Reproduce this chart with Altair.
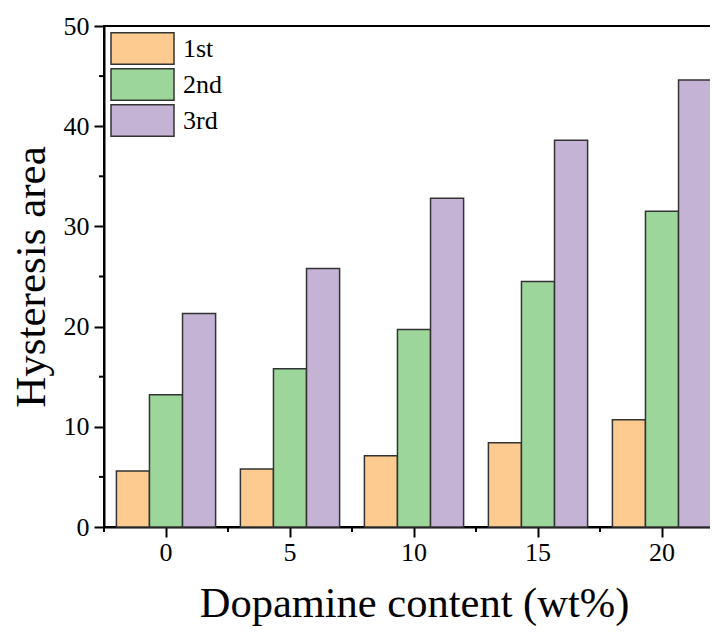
import altair as alt
import pandas as pd

content = ["0", "5", "10", "15", "20"]
series = ["1st", "2nd", "3rd"]
first = [5.6, 5.8, 7.1, 8.4, 10.7]
second = [13.2, 15.8, 19.7, 24.5, 31.5]
third = [21.3, 25.8, 32.8, 38.6, 44.6]
colors = ["#FDCB8F", "#9DD69B", "#C5B3D6"]
y_minor = [5, 15, 25, 35, 45]

rows = []
for s, vals in zip(series, [first, second, third]):
    for c, v in zip(content, vals):
        rows.append({"content": c, "series": s, "value": v})
df = pd.DataFrame(rows)
df_c = pd.DataFrame({"content": content})
df_m = pd.DataFrame({"v": y_minor})

FONT = "Liberation Serif"
W, H = 620, 501

xscale = alt.Scale(domain=content, paddingInner=0.2, paddingOuter=0.1)

bars = alt.Chart(df).mark_bar(stroke="#333333", strokeWidth=1.5).encode(
    x=alt.X("content:N", scale=xscale, sort=content,
            axis=alt.Axis(title="Dopamine content (wt%)", labelAngle=0, tickSize=10,
                          tickWidth=2, domainWidth=2, domainColor="black", tickColor="black",
                          labelFontSize=26, titleFontSize=42.5, labelPadding=2,
                          titlePadding=17, labelFont=FONT, titleFont=FONT,
                          titleFontWeight="normal", labelColor="black", titleColor="black")),
    xOffset=alt.XOffset("series:N", sort=series),
    y=alt.Y("value:Q", scale=alt.Scale(domain=[0, 50], nice=False),
            axis=alt.Axis(title="Hysteresis area", values=[0, 10, 20, 30, 40, 50],
                          tickSize=10, tickWidth=2, domainWidth=2, domainColor="black",
                          tickColor="black", labelFontSize=26, titleFontSize=43,
                          labelPadding=5, titlePadding=10, labelFont=FONT, titleFont=FONT,
                          titleFontWeight="normal", grid=False, labelColor="black",
                          titleColor="black")),
    fill=alt.Fill("series:N", sort=series,
                  scale=alt.Scale(domain=series, range=colors),
                  legend=alt.Legend(title=None, orient="none", legendX=22, legendY=6,
                                    symbolType="M-2,-1H2V1H-2Z", symbolSize=992,
                                    symbolStrokeColor="#333333", symbolStrokeWidth=1.5,
                                    symbolOpacity=1, rowPadding=-4,
                                    labelFontSize=26, labelFont=FONT, labelColor="black",
                                    labelOffset=24, padding=0)),
)

x_minor = alt.Chart(df_c).mark_rule(color="black", strokeWidth=2, xOffset=-12.4).encode(
    x=alt.X("content:N", scale=xscale, sort=content, bandPosition=0),
    y=alt.value(H),
    y2=alt.value(H + 5),
)

y_minor_ticks = alt.Chart(df_m).mark_rule(color="black", strokeWidth=2).encode(
    y=alt.Y("v:Q"),
    x=alt.value(-5),
    x2=alt.value(0),
)

chart = alt.layer(bars, x_minor, y_minor_ticks).properties(
    width=W, height=H,
    autosize=alt.AutoSizeParams(type="none"),
    padding={"left": 96, "top": 18, "right": -14, "bottom": 107},
).configure(background="white").configure_view(stroke="black", strokeWidth=2)

chart.save("out.html", embed_options={"renderer": "svg", "actions": False})
